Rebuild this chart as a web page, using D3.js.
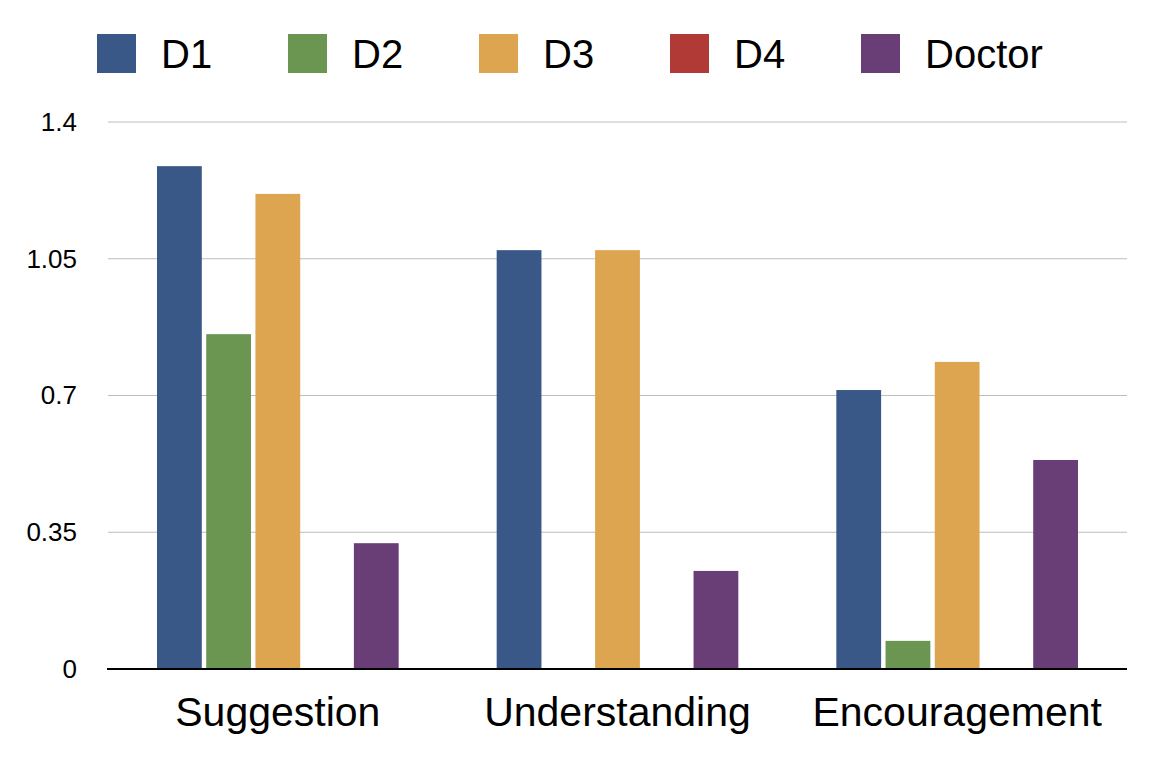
<!DOCTYPE html>
<html>
<head>
<meta charset="utf-8">
<script src="https://cdn.jsdelivr.net/npm/d3@7/dist/d3.min.js"></script>
<style>
  html, body { margin: 0; padding: 0; background: #fff; }
  svg { display: block; font-family: "Liberation Sans", Arial, Helvetica, sans-serif; }
</style>
</head>
<body>
<svg id="chart" width="1158" height="760"></svg>
<script>
const categories = ["Suggestion", "Understanding", "Encouragement"];
const seriesNames = ["D1", "D2", "D3", "D4", "Doctor"];
const D1 = [1.287, 1.072, 0.714];
const D2 = [0.857, 0, 0.072];
const D3 = [1.216, 1.072, 0.786];
const D4 = [0, 0, 0];
const Doctor = [0.322, 0.251, 0.535];
const yTicks = [0, 0.35, 0.7, 1.05, 1.4];
const tickLabels = ["0", "0.35", "0.7", "1.05", "1.4"];
const colors = ["#3a5887", "#6a9651", "#dea550", "#b13a36", "#693e76"];

const seriesValues = [D1, D2, D3, D4, Doctor];

const svg = d3.select("#chart");
const plotLeft = 108, plotRight = 1127, plotTop = 122, plotBottom = 669;

const y = d3.scaleLinear().domain([0, 1.4]).range([plotBottom, plotTop]);
const x0 = d3.scaleBand().domain(categories).range([plotLeft, plotRight]).padding(0);
const inset = 49;
const x1 = d3.scaleBand().domain(seriesNames)
  .range([inset, x0.bandwidth() - inset]).paddingInner(0.09).paddingOuter(0);
const color = d3.scaleOrdinal().domain(seriesNames).range(colors);

// Grid lines
svg.append("g").selectAll("line")
  .data(yTicks.filter(d => d > 0))
  .join("line")
  .attr("x1", plotLeft).attr("x2", plotRight)
  .attr("y1", d => y(d)).attr("y2", d => y(d))
  .attr("stroke", "#bdbdbd").attr("stroke-width", 1.2);

// Y tick labels
const yAxis = d3.axisLeft(y).tickValues(yTicks)
  .tickFormat((d, i) => tickLabels[i]).tickSize(0).tickPadding(0);
const yg = svg.append("g").attr("transform", `translate(77,0)`).call(yAxis);
yg.select(".domain").remove();
yg.selectAll("text").attr("font-size", 26).attr("fill", "#000")
  .attr("font-family", "Liberation Sans, Arial, sans-serif");

// Bars
const rows = [];
categories.forEach((c, ci) => {
  seriesNames.forEach((s, si) => {
    rows.push({ cat: c, series: s, value: seriesValues[si][ci] });
  });
});
svg.append("g").selectAll("rect")
  .data(rows.filter(d => d.value > 0))
  .join("rect")
  .attr("x", d => x0(d.cat) + x1(d.series))
  .attr("width", x1.bandwidth())
  .attr("y", d => y(d.value))
  .attr("height", d => y(0) - y(d.value))
  .attr("fill", d => color(d.series));

// Baseline
svg.append("line")
  .attr("x1", plotLeft - 1).attr("x2", plotRight)
  .attr("y1", y(0)).attr("y2", y(0))
  .attr("stroke", "#000").attr("stroke-width", 2.2);

// Category labels
const xAxis = d3.axisBottom(x0).tickSize(0).tickPadding(0);
const xg = svg.append("g").attr("transform", `translate(0,${plotBottom})`).call(xAxis);
xg.select(".domain").remove();
xg.selectAll("text").attr("font-size", 41).attr("fill", "#000")
  .attr("font-family", "Liberation Sans, Arial, sans-serif")
  .attr("dy", null).attr("y", 57);

// Legend
const legend = svg.append("g");
const items = legend.selectAll("g").data(seriesNames).join("g")
  .attr("transform", (d, i) => `translate(${97 + i * 191},34)`);
items.append("rect").attr("width", 39).attr("height", 39)
  .attr("fill", d => color(d));
items.append("text").attr("x", 64).attr("y", 34)
  .attr("font-size", 40).attr("fill", "#000")
  .text(d => d);
</script>
</body>
</html>
